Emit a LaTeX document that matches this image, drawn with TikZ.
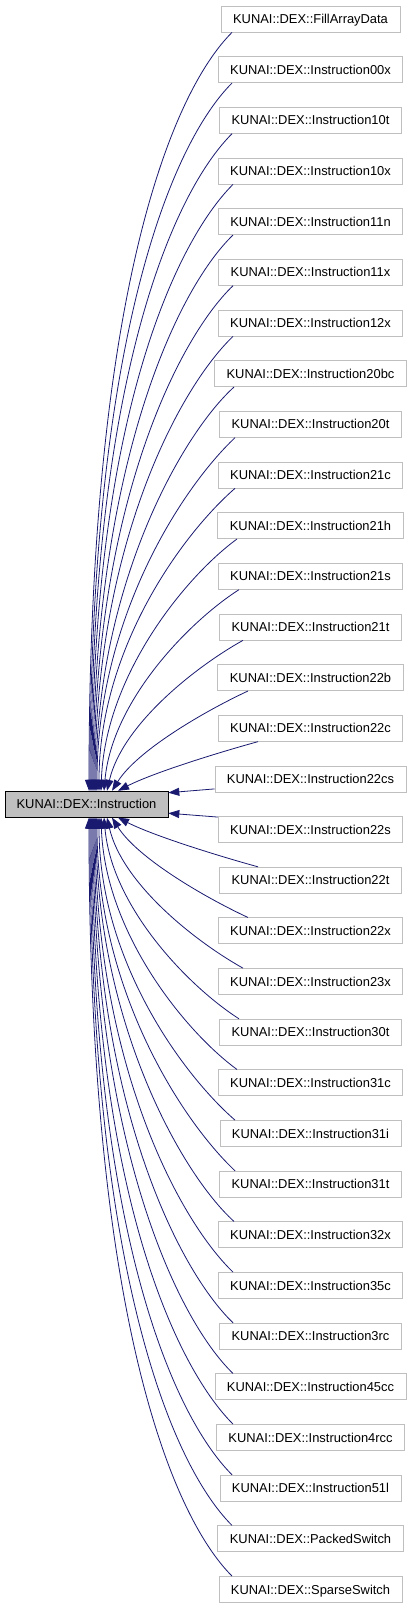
\documentclass[tikz,border=0pt]{standalone}
\usepackage{fontspec}
\setmainfont{Liberation Sans}
\usetikzlibrary{arrows.meta}
\definecolor{edgecol}{HTML}{191970}
\definecolor{boxgray}{HTML}{BFBFBF}
\begin{document}
\begin{tikzpicture}[x=1pt,y=-1pt,
  every node/.style={font=\fontsize{12.9pt}{15pt}\selectfont},
  cls/.style={draw=boxgray, line width=0.8pt, fill=white, inner xsep=12pt, inner ysep=0pt,
              minimum height=26pt, text height=9.2pt, text depth=0pt},
  basecls/.style={cls, draw=black, fill=boxgray, inner xsep=11.5pt},
  edge/.style={draw=edgecol, line width=0.8pt, -{Triangle[length=11pt,width=8pt]}}]
\useasboundingbox (0,0) rectangle (412,1608);
\node[basecls] (base) at (86.5,804.2) {KUNAI::DEX::Instruction};
\foreach \i/\n in {0/FillArrayData,1/Instruction00x,2/Instruction10t,3/Instruction10x,
  4/Instruction11n,5/Instruction11x,6/Instruction12x,7/Instruction20bc,8/Instruction20t,
  9/Instruction21c,10/Instruction21h,11/Instruction21s,12/Instruction21t,13/Instruction22b,
  14/Instruction22c,15/Instruction22cs,16/Instruction22s,17/Instruction22t,18/Instruction22x,
  19/Instruction23x,20/Instruction30t,21/Instruction31c,22/Instruction31i,23/Instruction31t,
  24/Instruction32x,25/Instruction35c,26/Instruction3rc,27/Instruction45cc,28/Instruction4rcc,
  29/Instruction51l,30/PackedSwitch,31/SparseSwitch}
  \node[cls] (c\i) at (310.5,{19+50.66*\i}) {KUNAI::DEX::\n};
\foreach \k/\dxs/\dxe/\a/\b/\d/\g in {
  1/-52.5/31.5/40/11/35/18,
  2/-62.5/25.5/45/21/25/40,
  3/-67.5/20.5/50/28/15/65,
  4/-71.5/17.5/50/32/8/90,
  5/-73.5/14.5/52/38/4/115,
  6/-75.5/12.5/55/48/0/140,
  7/-75.5/10.5/55/52/0/170,
  8/-76.5/9.5/55/50/0/200,
  9/-77.5/8.5/57/55/0/240,
  10/-77.5/7.5/57/55/0/280,
  11/-77.5/6.5/58/56/0/320,
  12/-77.5/5.5/58/58/0/370,
  13/-78.5/4.5/60/60/0/410,
  14/-78.5/3.5/60/60/0/455,
  15/-78.5/2.5/60/60/0/500}{
  \pgfmathtruncatemacro\iu{15-\k}
  \pgfmathtruncatemacro\il{16+\k}
  \draw[edge] ([xshift=\dxs pt]c\iu.south) .. controls +(-\a,\b) and +(\d,-\g) .. ([xshift=\dxe pt]base.north);
  \draw[edge] ([xshift=\dxs pt]c\il.north) .. controls +(-\a,-\b) and +(\d,\g) .. ([xshift=\dxe pt]base.south);
}
\draw[edge] ([yshift=-10pt]c15.west) -- ([yshift=11.5pt]base.east);
\draw[edge] ([yshift=12.5pt]c16.west) -- ([yshift=-9pt]base.east);
\end{tikzpicture}
\end{document}
